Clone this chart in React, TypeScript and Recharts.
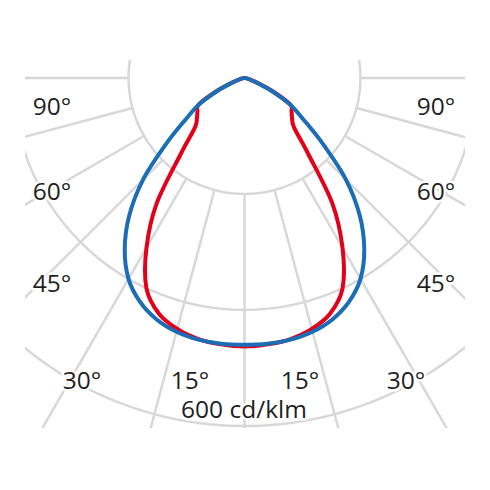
import React from 'react'
import { RadarChart, Radar, PolarGrid, PolarAngleAxis, PolarRadiusAxis } from 'recharts'

// gamma angle from nadir (deg) and luminous intensity (cd/klm), one half of each plane
const gammaDeg = [0, 5, 10, 15, 20, 25, 30, 35, 40, 45, 50, 55, 60, 65, 70, 75, 80, 85, 90]
const redCd = [463, 461, 457, 448, 432, 400, 338, 264, 171, 121, 107, 99, 91, 52, 22, 9, 4, 2, 1]
const blueCd = [460, 460, 458, 453, 443, 426, 400, 360, 309, 247, 176, 123, 89, 49, 20, 8, 3, 1, 1]

const ringValues = [200, 400, 600]
const spokeAngles = [0, 15, 30, 45, 60, 75, 90, 105, 120, 135, 150, 165, 180, 195, 210, 225, 240, 255, 270, 285, 300, 315, 330, 345]

const leftLabels = ['90°', '60°', '45°', '30°', '15°']
const rightLabels = ['15°', '30°', '45°', '60°', '90°']
const unitLabel = '600 cd/klm'

// right half: angle = gamma, left half mirrored to 360 - gamma
const rows = [
  ...gammaDeg.map((g, i) => ({ angle: g, red: redCd[i], blue: blueCd[i] })),
  ...gammaDeg.slice(1).reverse().map((g) => {
    const i = gammaDeg.indexOf(g)
    return { angle: 360 - g, red: redCd[i], blue: blueCd[i] }
  }),
]

const W = 440
const H = 368
const CX = 219.5
const CY = 18
const K = 0.58 // px per cd/klm
const MAXV = 720

const GRID = '#d8d8d8'
const TXT = '#1f1f1f'

const leftPos = [
  { x: 52, y: 115 },
  { x: 52, y: 200 },
  { x: 52, y: 292 },
  { x: 82, y: 389 },
  { x: 190, y: 389 },
]
const rightPos = [
  { x: 300, y: 389 },
  { x: 406, y: 389 },
  { x: 436, y: 292 },
  { x: 436, y: 200 },
  { x: 436, y: 115 },
]

const textStyle: React.CSSProperties = {
  fontFamily: '"Open Sans", sans-serif',
  fontSize: 24.5,
  fill: TXT,
  stroke: '#fff',
  strokeWidth: 5,
  paintOrder: 'stroke',
  strokeLinejoin: 'round',
}

const abs: React.CSSProperties = { position: 'absolute', left: 0, top: 0 }

// closed Catmull-Rom path through the radar points
function SmoothShape(props: any) {
  const pts = (props.points || []).filter((p: any) => Number.isFinite(p.x) && Number.isFinite(p.y))
  const n = pts.length
  if (!n) return null
  let d = `M${pts[0].x},${pts[0].y}`
  for (let i = 0; i < n; i++) {
    const p0 = pts[(i - 1 + n) % n]
    const p1 = pts[i]
    const p2 = pts[(i + 1) % n]
    const p3 = pts[(i + 2) % n]
    const c1x = p1.x + (p2.x - p0.x) / 6
    const c1y = p1.y + (p2.y - p0.y) / 6
    const c2x = p2.x - (p3.x - p1.x) / 6
    const c2y = p2.y - (p3.y - p1.y) / 6
    d += ` C${c1x},${c1y} ${c2x},${c2y} ${p2.x},${p2.y}`
  }
  return <path d={d + 'Z'} fill="none" stroke={props.stroke} strokeWidth={props.strokeWidth} strokeLinejoin="round" />
}

export default function App() {
  return (
    <div style={{ position: 'fixed', left: 0, top: 0, width: 490, height: 490, background: '#fff' }}>
      <div style={{ position: 'absolute', left: 25, top: 60, width: W, height: H, overflow: 'hidden' }}>
        <div style={abs}>
          <RadarChart
            width={W}
            height={H}
            data={rows}
            cx={CX}
            cy={CY}
            innerRadius={200 * K}
            outerRadius={MAXV * K}
            startAngle={-90}
            endAngle={270}
            margin={{ top: 0, right: 0, bottom: 0, left: 0 }}
          >
            <PolarGrid gridType="circle" stroke={GRID} strokeWidth={2.5} strokeOpacity={1} />
            <PolarAngleAxis type="number" dataKey="angle" domain={[0, 360]} ticks={spokeAngles} tick={false} tickLine={false} axisLine={false} />
            <PolarRadiusAxis type="number" domain={[200, MAXV]} allowDataOverflow ticks={ringValues} tick={false} axisLine={false} />
            <Radar dataKey="blue" stroke="none" fill="none" dot={false} isAnimationActive={false} />
          </RadarChart>
        </div>
        <svg width={490} height={490} style={{ position: 'absolute', left: -25, top: -60 }}>
          {leftLabels.map((t, i) => (
            <text key={'l' + i} x={leftPos[i].x} y={leftPos[i].y} textAnchor="middle" style={textStyle}>{t}</text>
          ))}
          {rightLabels.map((t, i) => (
            <text key={'r' + i} x={rightPos[i].x} y={rightPos[i].y} textAnchor="middle" style={textStyle}>{t}</text>
          ))}
          <text x={244} y={418} textAnchor="middle" style={textStyle}>{unitLabel}</text>
        </svg>
        <div style={abs}>
          <RadarChart
            width={W}
            height={H}
            data={rows}
            cx={CX}
            cy={CY}
            innerRadius={0}
            outerRadius={MAXV * K}
            startAngle={-90}
            endAngle={270}
            margin={{ top: 0, right: 0, bottom: 0, left: 0 }}
          >
            <PolarAngleAxis type="number" dataKey="angle" domain={[0, 360]} tick={false} tickLine={false} axisLine={false} />
            <PolarRadiusAxis type="number" domain={[0, MAXV]} allowDataOverflow tick={false} axisLine={false} />
            <Radar dataKey="red" stroke="#e2001a" strokeWidth={4} fill="none" dot={false} shape={SmoothShape} isAnimationActive={false} />
            <Radar dataKey="blue" stroke="#1b6db5" strokeWidth={4} fill="none" dot={false} shape={SmoothShape} isAnimationActive={false} />
          </RadarChart>
        </div>
      </div>
    </div>
  )
}
